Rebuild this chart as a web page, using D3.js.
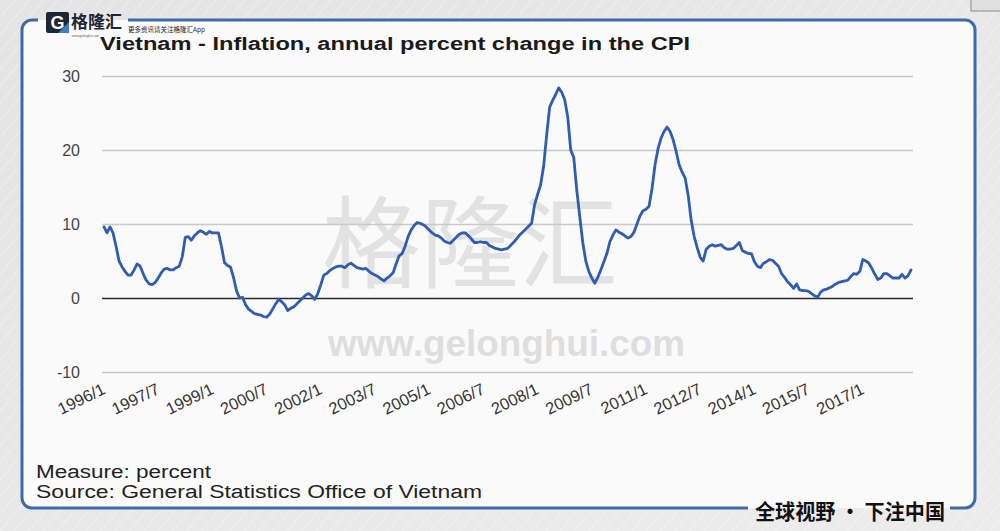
<!DOCTYPE html>
<html>
<head>
<meta charset="utf-8">
<script src="https://cdn.jsdelivr.net/npm/d3@7"></script>
<style>
  html, body { margin: 0; padding: 0; background: #e8e8e8; }
  svg { display: block; }
</style>
</head>
<body>
<svg id="chart" width="1000" height="531"></svg>
<script>
// Vietnam CPI, year on year change, monthly from 1996/1
var startYear = 1996;
var cpi = [
  9.6, 8.8, 9.6, 8.8, 7.0, 5.0, 4.2, 3.6, 3.1, 3.1, 3.8, 4.6,        // 1996
  4.3, 3.3, 2.4, 1.9, 1.8, 2.1, 2.7, 3.4, 3.9, 4.0, 3.8, 3.8,        // 1997
  4.1, 4.3, 5.6, 8.2, 8.3, 7.8, 8.4, 8.8, 9.1, 8.9, 8.6, 9.0,        // 1998
  8.8, 8.8, 8.8, 7.0, 4.8, 4.4, 4.2, 2.8, 1.0, 0.0, 0.1, -0.9,       // 1999
  -1.5, -1.8, -2.1, -2.2, -2.3, -2.5, -2.6, -2.2, -1.5, -0.8, -0.2, -0.5, // 2000
  -0.9, -1.7, -1.4, -1.2, -0.8, -0.4, 0.0, 0.4, 0.6, 0.3, -0.2, 0.6, // 2001
  1.8, 3.1, 3.3, 3.7, 4.0, 4.2, 4.3, 4.3, 4.1, 4.5, 4.7, 4.4,        // 2002
  4.1, 4.0, 3.9, 4.0, 3.6, 3.3, 3.1, 2.9, 2.6, 2.3, 2.7, 3.0,        // 2003
  3.4, 4.6, 5.7, 6.0, 7.0, 8.3, 9.2, 9.8, 10.2, 10.1, 9.9, 9.6,      // 2004
  9.2, 8.8, 8.5, 8.4, 8.1, 7.7, 7.5, 7.4, 7.8, 8.2, 8.6, 8.8,        // 2005
  8.8, 8.4, 8.0, 7.5, 7.5, 7.6, 7.5, 7.5, 7.1, 6.9, 6.7, 6.6,        // 2006
  6.5, 6.6, 6.7, 7.1, 7.5, 8.0, 8.5, 8.9, 9.3, 9.7, 10.1, 12.6,      // 2007
  14.0, 15.3, 17.8, 22.0, 25.8, 26.7, 27.5, 28.4, 27.8, 26.8, 24.5, 20.0, // 2008
  19.0, 14.6, 11.0, 7.5, 5.0, 3.6, 2.7, 2.0, 2.8, 3.8, 4.9, 6.0,     // 2009
  7.6, 8.5, 9.2, 8.9, 8.7, 8.4, 8.1, 8.3, 8.9, 10.0, 11.1, 11.8,     // 2010
  12.0, 12.4, 14.8, 18.0, 20.2, 21.6, 22.5, 23.1, 22.5, 21.4, 19.8, 18.0, // 2011
  17.0, 16.2, 13.9, 10.5, 8.3, 6.8, 5.5, 5.0, 6.6, 7.0, 7.2, 7.0,    // 2012
  7.1, 7.2, 6.8, 6.6, 6.6, 6.7, 7.1, 7.5, 6.4, 6.2, 6.0, 6.0,        // 2013
  4.9, 4.3, 4.1, 4.7, 4.9, 5.2, 5.1, 4.7, 4.3, 3.3, 2.8, 2.2,        // 2014
  1.8, 1.3, 1.9, 1.1, 1.0, 1.0, 0.9, 0.6, 0.3, 0.1, 0.8, 1.1,        // 2015
  1.2, 1.4, 1.6, 1.9, 2.1, 2.2, 2.3, 2.4, 2.9, 3.3, 3.2, 3.6,        // 2016
  5.2, 5.0, 4.7, 4.0, 3.2, 2.5, 2.7, 3.3, 3.3, 3.0, 2.7, 2.7,        // 2017
  2.7, 3.2, 2.7, 3.0, 3.8                                            // 2018
];

var yTicks = [-10, 0, 10, 20, 30];
var xTickLabels = ["1996/1", "1997/7", "1999/1", "2000/7", "2002/1", "2003/7", "2005/1",
  "2006/7", "2008/1", "2009/7", "2011/1", "2012/7", "2014/1", "2015/7", "2017/1"];

var titleText = "Vietnam - Inflation, annual percent change in the CPI";
var measureText = "Measure: percent";
var sourceText = "Source: General Statistics Office of Vietnam";

// month index of a "yyyy/m" label
function labelIndex(s) {
  var p = s.split("/");
  return (+p[0] - startYear) * 12 + (+p[1] - 1);
}

var svg = d3.select("#chart");
var W = 1000, H = 531;
var sans = "Liberation Sans, Arial, sans-serif";
var cjk = "Noto Sans CJK SC, sans-serif";

// ---- background with diagonal texture
var defs = svg.append("defs");
var pat = defs.append("pattern")
  .attr("id", "diag")
  .attr("width", 11).attr("height", 11)
  .attr("patternUnits", "userSpaceOnUse")
  .attr("patternTransform", "rotate(40)");
pat.append("line")
  .attr("x1", 0).attr("y1", 0).attr("x2", 0).attr("y2", 11)
  .attr("stroke", "#ffffff").attr("stroke-width", 1.2).attr("stroke-opacity", 0.55);

var grad = defs.append("linearGradient").attr("id", "bg")
  .attr("x1", 0).attr("y1", 0).attr("x2", 1).attr("y2", 1);
grad.append("stop").attr("offset", 0).attr("stop-color", "#e4e4e4");
grad.append("stop").attr("offset", 1).attr("stop-color", "#ececec");

svg.append("rect").attr("width", W).attr("height", H).attr("fill", "url(#bg)");
svg.append("rect").attr("width", W).attr("height", H).attr("fill", "url(#diag)");

// little box at the top right corner
svg.append("rect")
  .attr("x", 971).attr("y", -3).attr("width", 40).attr("height", 14)
  .attr("fill", "#e0e0e0").attr("stroke", "#8a8a8a").attr("stroke-width", 1);

// ---- panel
var px0 = 22, py0 = 20, px1 = 975, py1 = 508, pr = 10;
svg.append("rect")
  .attr("x", px0).attr("y", py0).attr("width", px1 - px0).attr("height", py1 - py0)
  .attr("rx", pr).attr("fill", "#fafafa");
svg.append("rect")
  .attr("x", px0).attr("y", py0).attr("width", px1 - px0).attr("height", py1 - py0)
  .attr("rx", pr).attr("fill", "url(#diag)").attr("opacity", 0.35);

var border = "#3d6ca6";
svg.append("path")
  .attr("d", "M38," + py0 + " H" + (px0 + pr) + " A" + pr + "," + pr + " 0 0 0 " + px0 + "," + (py0 + pr) +
    " V" + (py1 - pr) + " A" + pr + "," + pr + " 0 0 0 " + (px0 + pr) + "," + py1 + " H748")
  .attr("fill", "none").attr("stroke", border).attr("stroke-width", 3);
svg.append("path")
  .attr("d", "M950," + py1 + " H" + (px1 - pr) + " A" + pr + "," + pr + " 0 0 0 " + px1 + "," + (py1 - pr) +
    " V" + (py0 + pr) + " A" + pr + "," + pr + " 0 0 0 " + (px1 - pr) + "," + py0 + " H128")
  .attr("fill", "none").attr("stroke", border).attr("stroke-width", 3);

// ---- logo
var logo = svg.append("g");
logo.append("rect").attr("x", 46).attr("y", 12).attr("width", 23).attr("height", 21)
  .attr("rx", 2).attr("fill", "#1c2635");
logo.append("text").attr("x", 57.5).attr("y", 29)
  .attr("text-anchor", "middle")
  .attr("font-family", sans).attr("font-weight", "bold")
  .attr("font-size", "18px").attr("fill", "#ffffff").text("G");
logo.append("path").attr("d", "M58,33 L69,22 L69,33 Z").attr("fill", "#3a7fd0");
logo.append("text").attr("x", 71).attr("y", 27.5)
  .attr("font-family", cjk).attr("font-weight", "bold")
  .attr("font-size", "17px").attr("fill", "#1c2635").text("格隆汇");
logo.append("text").attr("x", 72).attr("y", 36.5)
  .attr("font-family", sans)
  .attr("font-size", "3.5px").attr("fill", "#555")
  .attr("textLength", 27).attr("lengthAdjust", "spacingAndGlyphs")
  .text("www.gelonghui.com");
logo.append("text").attr("x", 128).attr("y", 32)
  .attr("font-family", cjk)
  .attr("font-size", "6.5px").attr("fill", "#222").text("更多资讯请关注格隆汇App");

// ---- title (the source picture is stretched sideways, so fit the width)
svg.append("text")
  .attr("x", 100).attr("y", 50)
  .attr("font-family", sans)
  .attr("font-weight", "bold").attr("font-size", "17.5px").attr("fill", "#1a1a1a")
  .attr("textLength", 590).attr("lengthAdjust", "spacingAndGlyphs")
  .text(titleText);

// ---- scales
var plotLeft = 102, plotRight = 913;
var x = d3.scaleLinear().domain([0, cpi.length - 1]).range([104, 911]);
var y = d3.scaleLinear().domain([-10, 30]).range([372, 76]);

// ---- watermark
svg.append("text")
  .attr("x", 322).attr("y", 280)
  .attr("font-family", cjk)
  .attr("font-size", "100px").attr("fill", "#e2e2e2")
  .attr("textLength", 296).attr("lengthAdjust", "spacingAndGlyphs")
  .text("格隆汇");
svg.append("text")
  .attr("x", 328).attr("y", 356)
  .attr("font-family", sans).attr("font-weight", "bold")
  .attr("font-size", "36px").attr("fill", "#dedede")
  .attr("textLength", 357).attr("lengthAdjust", "spacingAndGlyphs")
  .text("www.gelonghui.com");

// ---- y axis + gridlines
var yAxis = svg.append("g")
  .attr("transform", "translate(" + plotLeft + ",0)")
  .call(d3.axisLeft(y).tickValues(yTicks)
    .tickFormat(function(d) { return String(d); })
    .tickSize(-(plotRight - plotLeft)).tickPadding(22));
yAxis.select(".domain").remove();
yAxis.selectAll(".tick line")
  .attr("stroke", function(d) { return d === 0 ? "#2a2a2a" : "#c9c9c9"; })
  .attr("stroke-width", function(d) { return d === 0 ? 1.6 : 1.4; });
yAxis.selectAll(".tick text")
  .attr("font-family", sans)
  .attr("font-size", "16px").attr("fill", "#444");

// ---- x axis labels
var xAxis = svg.append("g")
  .attr("transform", "translate(0,372)")
  .call(d3.axisBottom(x)
    .tickValues(xTickLabels.map(labelIndex))
    .tickSize(0)
    .tickFormat(function(d, i) { return xTickLabels[i]; }));
xAxis.select(".domain").remove();
xAxis.selectAll(".tick text")
  .attr("font-family", sans)
  .attr("font-size", "16.5px").attr("fill", "#333")
  .attr("text-anchor", "end")
  .attr("dy", null)
  .attr("y", 0)
  .attr("transform", "translate(2,21) rotate(-26)");

// ---- line
var line = d3.line()
  .x(function(d, i) { return x(i); })
  .y(function(d) { return y(d); });
svg.append("path")
  .datum(cpi)
  .attr("d", line)
  .attr("fill", "none")
  .attr("stroke", "#2f5db0")
  .attr("stroke-width", 2.8)
  .attr("stroke-linejoin", "round")
  .attr("stroke-linecap", "round");

// ---- footer
svg.append("text")
  .attr("x", 36).attr("y", 478)
  .attr("font-family", sans)
  .attr("font-size", "18px").attr("fill", "#222")
  .attr("textLength", 175).attr("lengthAdjust", "spacingAndGlyphs")
  .text(measureText);
svg.append("text")
  .attr("x", 36).attr("y", 498)
  .attr("font-family", sans)
  .attr("font-size", "18px").attr("fill", "#222")
  .attr("textLength", 446).attr("lengthAdjust", "spacingAndGlyphs")
  .text(sourceText);

svg.append("text")
  .attr("x", 755).attr("y", 519)
  .attr("font-family", cjk).attr("font-weight", "bold")
  .attr("font-size", "21px").attr("fill", "#111")
  .attr("textLength", 190).attr("lengthAdjust", "spacingAndGlyphs")
  .text("全球视野 · 下注中国");
</script>
</body>
</html>
